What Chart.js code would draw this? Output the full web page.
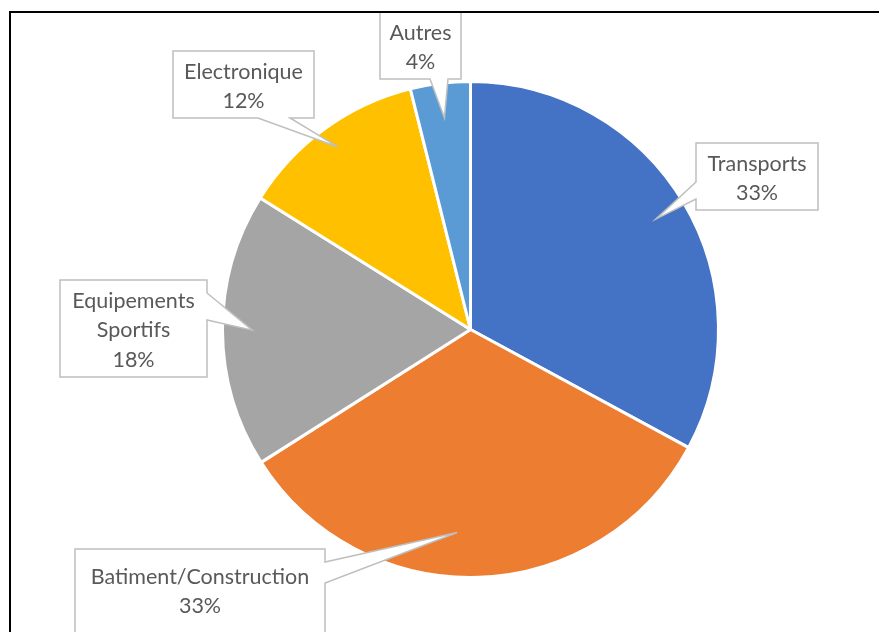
<!DOCTYPE html>
<html>
<head>
<meta charset="utf-8">
<script src="https://cdn.jsdelivr.net/npm/chart.js@4/dist/chart.umd.min.js"></script>
<style>
  html, body { margin: 0; padding: 0; background: #ffffff; }
  #wrap { position: relative; width: 879px; height: 632px; overflow: hidden; }
  canvas { display: block; }
</style>
</head>
<body>
<div id="wrap"><canvas id="c" width="879" height="632"></canvas></div>
<script>
// ---- data ----
const categories = ["Transports", "Batiment/Construction", "Equipements Sportifs", "Electronique", "Autres"];
const labelLines = [["Transports"], ["Batiment/Construction"], ["Equipements", "Sportifs"], ["Electronique"], ["Autres"]];
const shares = [32.9, 33.1, 17.9, 12.2, 3.9];
const colors = ["#4472C4", "#ED7D31", "#A5A5A5", "#FFC000", "#5B9BD5"];

// ---- callout layout (box rectangles, pointer side, pointer depth/turn into slice) ----
const calloutBoxes = [
  { x: 696, y: 143, w: 122, h: 67, side: "left",   a: 182, b: 199, top: 21, depth: 0.87, turn: 0 },
  { x: 75,  y: 549, w: 250, h: 95, side: "right",  a: 562, b: 583, top: 28, depth: 0.82, turn: 0.10 },
  { x: 60,  y: 280, w: 147, h: 97, side: "right",  a: 293, b: 320, top: 21, depth: 0.88, turn: 0 },
  { x: 173, y: 51,  w: 141, h: 67, side: "bottom", a: 258, b: 290, top: 21, depth: 0.91, turn: 0 },
  { x: 380, y: 12,  w: 81,  h: 67, side: "bottom", a: 430, b: 448, top: 21, depth: 0.86, turn: 0 }
];

const framePlugin = {
  id: "frame",
  afterDraw(chart) {
    const ctx = chart.ctx;
    ctx.save();
    ctx.strokeStyle = "#000000";
    ctx.lineWidth = 2;
    ctx.beginPath();
    ctx.moveTo(10, 640);
    ctx.lineTo(10, 12);
    ctx.lineTo(890, 12);
    ctx.stroke();
    ctx.restore();
  }
};

const calloutPlugin = {
  id: "callouts",
  afterDatasetsDraw(chart) {
    const ctx = chart.ctx;
    const meta = chart.getDatasetMeta(0);
    const data = chart.data.datasets[0].data;
    const total = data.reduce((s, v) => s + v, 0);
    ctx.save();
    meta.data.forEach((arc, i) => {
      const p = arc.getProps(["x", "y", "startAngle", "endAngle", "outerRadius"], true);
      const b = calloutBoxes[i];
      const mid = (p.startAngle + p.endAngle) / 2 + b.turn;
      const tx = p.x + Math.cos(mid) * p.outerRadius * b.depth;
      const ty = p.y + Math.sin(mid) * p.outerRadius * b.depth;
      const L = b.x, R = b.x + b.w, T = b.y, B = b.y + b.h;
      ctx.beginPath();
      ctx.moveTo(L, T);
      ctx.lineTo(R, T);
      if (b.side === "right") { ctx.lineTo(R, b.a); ctx.lineTo(tx, ty); ctx.lineTo(R, b.b); }
      ctx.lineTo(R, B);
      if (b.side === "bottom") { ctx.lineTo(b.b, B); ctx.lineTo(tx, ty); ctx.lineTo(b.a, B); }
      ctx.lineTo(L, B);
      if (b.side === "left") { ctx.lineTo(L, b.b); ctx.lineTo(tx, ty); ctx.lineTo(L, b.a); }
      ctx.closePath();
      ctx.fillStyle = "#ffffff";
      ctx.fill();
      ctx.strokeStyle = "#BFBFBF";
      ctx.lineWidth = 1.5;
      ctx.stroke();

      const lines = labelLines[i].concat([Math.round(data[i] / total * 100) + "%"]);
      ctx.fillStyle = "#595959";
      ctx.font = "21.5px Lato, 'Open Sans', sans-serif";
      ctx.textAlign = "center";
      ctx.textBaseline = "middle";
      lines.forEach((ln, k) => {
        ctx.fillText(ln, L + b.w / 2, T + b.top + k * 29.5);
      });
    });
    ctx.restore();
  }
};

new Chart(document.getElementById("c"), {
  type: "pie",
  data: {
    labels: categories,
    datasets: [{
      data: shares,
      backgroundColor: colors,
      borderColor: "#ffffff",
      borderWidth: 3
    }]
  },
  options: {
    responsive: false,
    animation: false,
    layout: { padding: { left: 221, right: 159, top: 80, bottom: 53 } },
    plugins: {
      legend: { display: false },
      tooltip: { enabled: false }
    }
  },
  plugins: [calloutPlugin, framePlugin]
});
</script>
</body>
</html>
